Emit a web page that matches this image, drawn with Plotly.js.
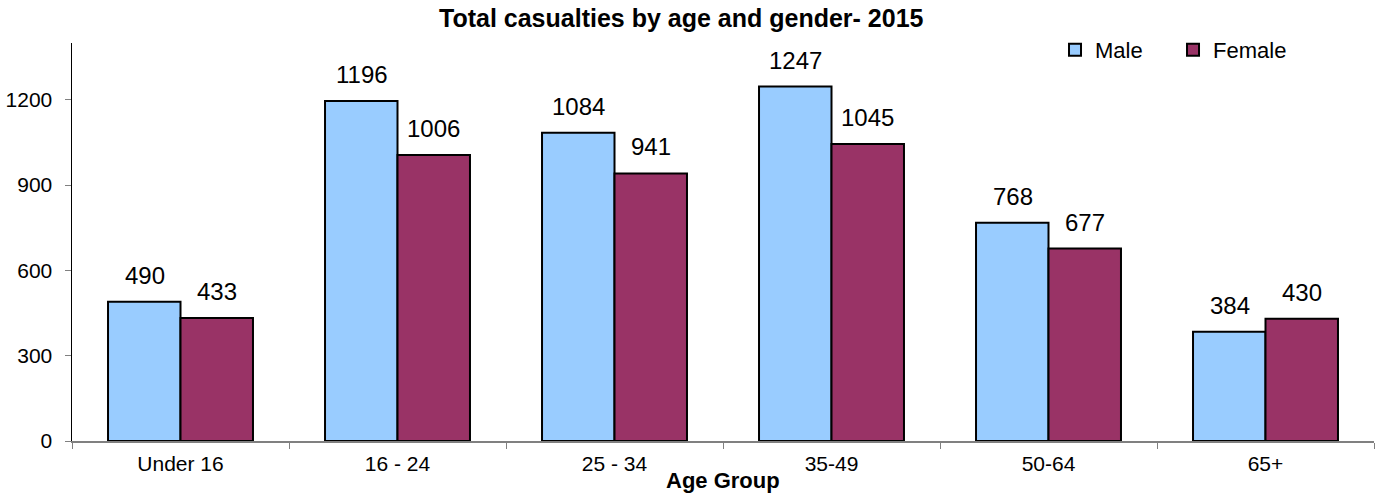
<!DOCTYPE html>
<html>
<head>
<meta charset="utf-8">
<script src="https://cdn.plot.ly/plotly-3.0.1.min.js"></script>
<style>html,body{margin:0;padding:0;background:#fff;}#chart{width:1379px;height:493px;}</style>
</head>
<body>
<div id="chart"></div>
<script>
const categories = ["Under 16", "16 - 24", "25 - 34", "35-49", "50-64", "65+"];
const male = [490, 1196, 1084, 1247, 768, 384];
const female = [433, 1006, 941, 1045, 677, 430];
const yTicks = [0, 300, 600, 900, 1200];

const FONT = "Liberation Sans, Arial, sans-serif";
const traces = [
  {type: "bar", name: "Male", x: categories, y: male,
   marker: {color: "#99CCFF", line: {color: "#000", width: 2}}},
  {type: "bar", name: "Female", x: categories, y: female,
   marker: {color: "#993366", line: {color: "#000", width: 2}}}
];

const annotations = [];
categories.forEach((c, i) => {
  annotations.push({x: c, y: male[i], text: String(male[i]), showarrow: false,
    xref: "x", yref: "y", xshift: -36, yanchor: "bottom", yshift: 11,
    font: {family: FONT, size: 24, color: "#000"}});
  annotations.push({x: c, y: female[i], text: String(female[i]), showarrow: false,
    xref: "x", yref: "y", xshift: 36, yanchor: "bottom", yshift: 11,
    font: {family: FONT, size: 24, color: "#000"}});
});
annotations.push({text: "<b>Age Group</b>", xref: "paper", yref: "paper", x: 0.5, y: -0.098,
  xanchor: "center", yanchor: "middle", showarrow: false,
  font: {family: FONT, size: 22, color: "#000"}});

const layout = {
  width: 1379, height: 493,
  margin: {l: 72, r: 5, t: 43, b: 52},
  paper_bgcolor: "#fff", plot_bgcolor: "#fff",
  font: {family: FONT, color: "#000"},
  title: {text: "<b>Total casualties by age and gender- 2015</b>", font: {family: FONT, size: 25, color: "#000"},
          x: 0.494, xanchor: "center", y: 0.963, yanchor: "middle"},
  barmode: "group", bargap: 0.332, bargroupgap: 0,
  showlegend: true,
  legend: {orientation: "h", x: 0.755, xanchor: "left", y: 1.035, yanchor: "top",
           font: {family: FONT, size: 22, color: "#000"}, bgcolor: "rgba(0,0,0,0)",
           traceorder: "normal", entrywidth: 73, entrywidthmode: "pixels"},
  xaxis: {type: "category", showline: true, linecolor: "#808080", linewidth: 1.5,
          ticks: "outside", ticklen: 6, tickcolor: "#808080", tickson: "boundaries",
          showgrid: false, zeroline: false,
          tickfont: {family: FONT, size: 21, color: "#000"}, ticklabelstandoff: 3},
  yaxis: {range: [0, 1400], tickvals: yTicks, ticktext: yTicks.map(String),
          showline: true, linecolor: "#000", linewidth: 1.5,
          ticks: "outside", ticklen: 6, tickcolor: "#808080",
          showgrid: false, zeroline: false,
          tickfont: {family: FONT, size: 21, color: "#000"}, ticklabelstandoff: 8},
  annotations: annotations
};

Plotly.newPlot("chart", traces, layout, {displayModeBar: false, staticPlot: true});
</script>
</body>
</html>
